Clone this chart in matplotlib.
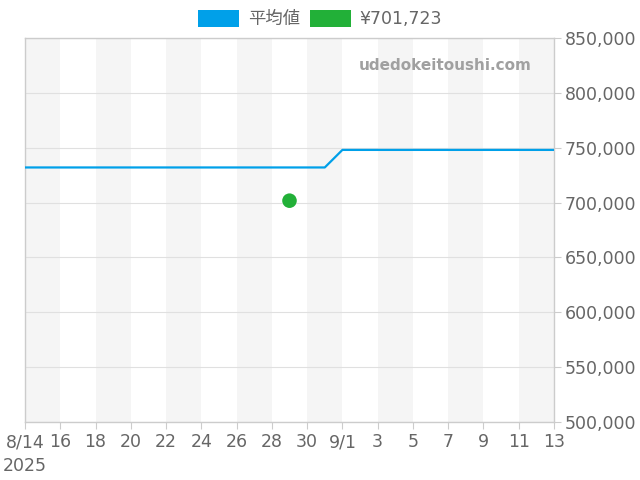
#!/usr/bin/env python3
"""Average price line with a single listed price point."""
import matplotlib
matplotlib.use("Agg")
import matplotlib.pyplot as plt
from matplotlib.patches import Patch
import numpy as np

plt.rcParams['font.family'] = ['DejaVu Sans', 'Noto Sans CJK JP']

# day offsets from 2025-08-14
avg_days = list(range(0, 31))
avg_values = [732000] * 18 + [748000] * 13
point_day = 15          # 8/29
point_value = 701723

tick_days = [0, 2, 4, 6, 8, 10, 12, 14, 16, 18, 20, 22, 24, 26, 28, 30]
tick_labels = ["8/14", "16", "18", "20", "22", "24", "26", "28", "30",
               "9/1", "3", "5", "7", "9", "11", "13"]
y_ticks = [500000, 550000, 600000, 650000, 700000, 750000, 800000, 850000]

TXT = "#666666"

fig = plt.figure(figsize=(6.4, 4.8), dpi=100)
ax = fig.add_axes([25 / 640, 58 / 480, 529 / 640, 384 / 480])

# alternating shaded bands every two days
for start in range(0, 30, 4):
    ax.axvspan(start, start + 2, color="#f5f5f5", zorder=0, lw=0)

for y in y_ticks:
    ax.axhline(y, color="#e0e0e0", lw=0.8, zorder=1)

ax.plot(avg_days, avg_values, color="#00a0e9", lw=1.6, zorder=3)
ax.scatter([point_day], [point_value], s=110, color="#22b038", zorder=4,
           edgecolors="none")

ax.set_xlim(0, 30)
ax.set_ylim(500000, 850000)
ax.set_xticks(tick_days)
ax.set_xticklabels(tick_labels)
ax.yaxis.tick_right()
ax.set_yticks(y_ticks)
ax.set_yticklabels([f"{v:,}" for v in y_ticks])
ax.tick_params(axis="both", colors="#cccccc", labelcolor=TXT, labelsize=12.5,
               length=5, width=0.8)
ax.tick_params(axis="y", pad=3)
ax.tick_params(axis="x", pad=3)
for sp in ax.spines.values():
    sp.set_color("#cccccc")
    sp.set_linewidth(1)

fig.text(3 / 640, 1 - 466 / 480, "2025", color=TXT, fontsize=12.5,
         ha="left", va="center")
ax.text(0.958, 0.928, "udedokeitoushi.com", transform=ax.transAxes,
        ha="right", va="center", color="#a0a0a0", fontsize=11,
        fontweight="bold")

handles = [Patch(facecolor="#00a0e9", edgecolor="none"),
           Patch(facecolor="#22b038", edgecolor="none")]
fig.legend(handles, ["平均値", f"¥{point_value:,}"], loc="center",
           bbox_to_anchor=(320 / 640, 1 - 19 / 480), ncol=2, frameon=False,
           handlelength=2.36, handleheight=1.1, handletextpad=0.5,
           columnspacing=0.55, fontsize=12.5, labelcolor=TXT)

fig.savefig("out.png", dpi=100)
